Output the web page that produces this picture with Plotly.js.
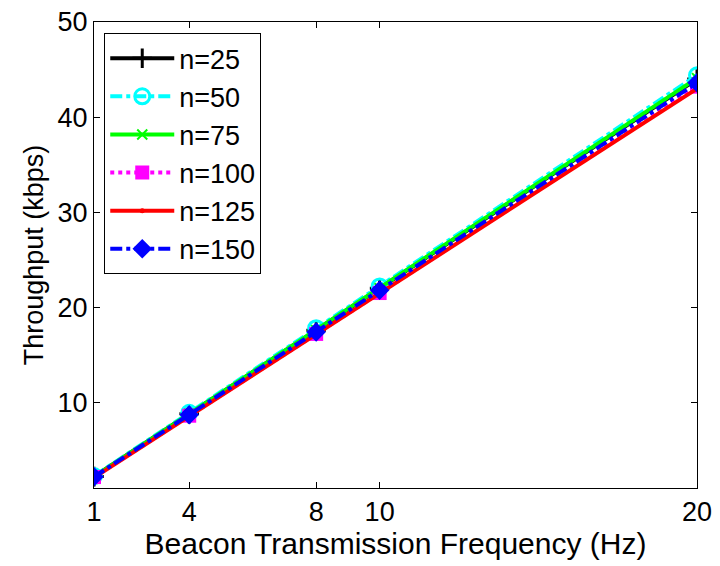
<!DOCTYPE html>
<html>
<head>
<meta charset="utf-8">
<script src="https://cdn.plot.ly/plotly-3.0.1.min.js"></script>
<style>html,body{margin:0;padding:0;background:#fff;}#chart{width:720px;height:566px;}</style>
</head>
<body>
<div id="chart"></div>
<script>
const freq = [1, 4, 8, 10, 20];
const seriesNames = ['n=25', 'n=50', 'n=75', 'n=100', 'n=125', 'n=150'];
const n25  = [2.20, 8.80, 17.60, 22.00, 44.00];
const n50  = [2.25, 8.90, 17.80, 22.20, 44.40];
const n75  = [2.20, 8.80, 17.60, 22.00, 44.10];
const n100 = [2.15, 8.60, 17.20, 21.50, 43.20];
const n125 = [2.10, 8.55, 17.10, 21.40, 43.00];
const n150 = [2.18, 8.70, 17.40, 21.80, 43.60];
const xTicks = [1, 4, 8, 10, 20];
const yTicks = [10, 20, 30, 40, 50];

const values = [n25, n50, n75, n100, n125, n150];
const styles = [
  {color: '#000000', dash: 'solid',   symbol: 'cross-thin-open', size: 14, mline: 3},
  {color: '#00ffff', dash: 'dashdot', symbol: 'circle-open',     size: 15, mline: 3},
  {color: '#00ff00', dash: 'solid',   symbol: 'x-thin-open',     size: 10, mline: 2},
  {color: '#ff00ff', dash: 'dot',     symbol: 'square',          size: 14, mline: 0},
  {color: '#ff0000', dash: 'solid',   symbol: 'circle',          size: 5,  mline: 0},
  {color: '#0000ff', dash: 'dashdot', symbol: 'diamond',         size: 15, mline: 0}
];

const traces = values.map((v, i) => ({
  x: freq, y: v, name: seriesNames[i], type: 'scatter', mode: 'lines+markers',
  legendgroup: 'g' + i,
  line: {color: styles[i].color, width: 4, dash: styles[i].dash},
  marker: {color: styles[i].color, symbol: styles[i].symbol, size: styles[i].size,
           line: {color: styles[i].color, width: styles[i].mline}}
}));

const fam = 'Liberation Sans, Arial, sans-serif';
const layout = {
  width: 720, height: 566,
  margin: {l: 94, r: 23, t: 22, b: 78},
  paper_bgcolor: '#fff', plot_bgcolor: '#fff',
  font: {family: fam, color: '#000', size: 26},
  showlegend: true,
  legend: {x: 0.017, y: 0.976, xanchor: 'left', yanchor: 'top',
           bgcolor: '#fff', bordercolor: '#000', borderwidth: 1,
           font: {family: fam, size: 27, color: '#000'},
           traceorder: 'grouped', tracegroupgap: 0, itemwidth: 64},
  xaxis: {range: [1, 20], tickvals: xTicks, ticktext: xTicks.map(String),
          ticks: 'inside', ticklen: 6, tickcolor: '#000', mirror: 'ticks',
          showline: true, linecolor: '#000', linewidth: 1, showgrid: false, zeroline: false,
          tickfont: {family: fam, size: 27},
          title: {text: 'Beacon Transmission Frequency (Hz)', font: {family: fam, size: 30}, standoff: 4}},
  yaxis: {range: [1, 50], tickvals: yTicks, ticktext: yTicks.map(String),
          ticks: 'inside', ticklen: 6, tickcolor: '#000', mirror: 'ticks',
          showline: true, linecolor: '#000', linewidth: 1, showgrid: false, zeroline: false,
          tickfont: {family: fam, size: 27},
          title: {text: 'Throughput (kbps)', font: {family: fam, size: 27}, standoff: 6}}
};
Plotly.newPlot('chart', traces, layout, {displayModeBar: false, staticPlot: true});
</script>
</body>
</html>
